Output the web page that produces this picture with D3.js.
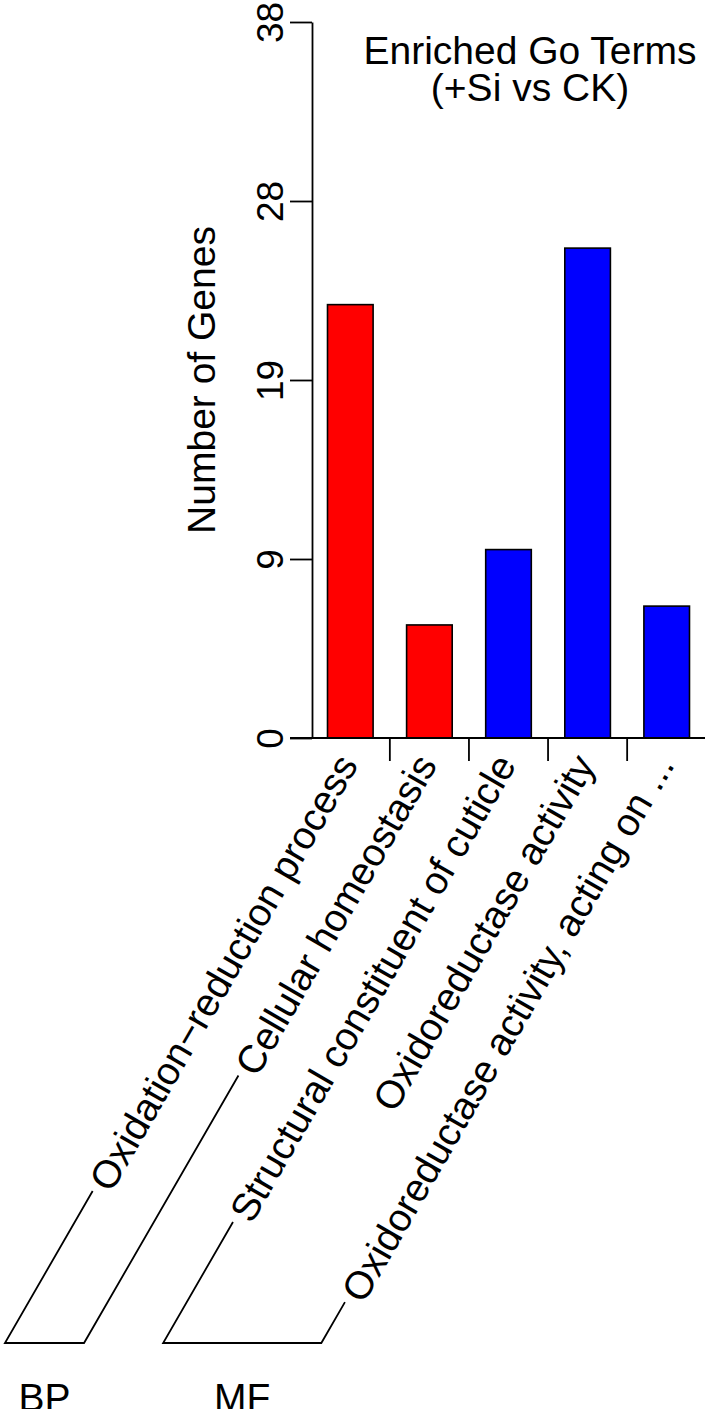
<!DOCTYPE html>
<html>
<head>
<meta charset="utf-8">
<script src="https://cdn.jsdelivr.net/npm/d3@7"></script>
<style>
  html, body { margin: 0; padding: 0; background: #fff; }
  svg { display: block; }
  text { font-family: "Liberation Sans", Arial, Helvetica, sans-serif; fill: #000; }
</style>
</head>
<body>
<svg id="chart" width="709" height="1409"></svg>
<script>
// ---- data ----
const categories = [
  "Oxidation\u2212reduction process",
  "Cellular homeostasis",
  "Structural constituent of cuticle",
  "Oxidoreductase activity",
  "Oxidoreductase activity, acting on ..."
];
const values = [23, 6, 10, 26, 7];
const groupOf = ["BP", "BP", "MF", "MF", "MF"];
const groupNames = ["BP", "MF"];
const yTickValues = [0, 9.5, 19, 28.5, 38];
const yTickLabels = ["0", "9", "19", "28", "38"];
const titleLines = ["Enriched Go Terms", "(+Si vs CK)"];
const yTitle = "Number of Genes";

// ---- styles ----
const groupColor = { BP: "#FF0000", MF: "#0000FF" };
const FS = 39;       // label / title font size
const FS_TICK = 37;  // y tick labels
const ANG = 60;

const svg = d3.select("#chart");

const x = d3.scaleBand().domain(categories).range([312, 705])
  .paddingInner(0.4235).paddingOuter(0.196);
const y = d3.scaleLinear().domain([0, 38]).range([738, 22]);

// bars
svg.append("g").selectAll("rect").data(categories).join("rect")
  .attr("x", d => x(d))
  .attr("y", (d, i) => y(values[i]))
  .attr("width", x.bandwidth())
  .attr("height", (d, i) => y(0) - y(values[i]))
  .attr("fill", (d, i) => groupColor[groupOf[i]])
  .attr("stroke", "#000").attr("stroke-width", 1.6);

// y axis
const yAxis = svg.append("g").attr("transform", "translate(312,0)")
  .call(d3.axisLeft(y).tickValues(yTickValues)
    .tickFormat((d, i) => yTickLabels[i]).tickSize(22).tickSizeOuter(0));
yAxis.select(".domain").attr("stroke", "#000").attr("stroke-width", 1.8);
yAxis.selectAll(".tick line").attr("stroke", "#000").attr("stroke-width", 1.8);
yAxis.selectAll(".tick text")
  .attr("x", null).attr("dy", null)
  .attr("transform", "translate(-29,0) rotate(-90)")
  .attr("text-anchor", "middle")
  .style("font-size", FS_TICK + "px")
  .style("font-family", "'Liberation Sans', Arial, sans-serif")
  .attr("fill", "#000");

// x axis baseline
svg.append("line")
  .attr("x1", 312 - 22).attr("x2", x.range()[1])
  .attr("y1", y(0)).attr("y2", y(0))
  .attr("stroke", "#000").attr("stroke-width", 1.8);

// x ticks at gaps between bars
const gapTicks = categories.slice(0, -1).map(c => x(c) + x.bandwidth() + (x.step() - x.bandwidth()) / 2);
svg.append("g").selectAll("line").data(gapTicks).join("line")
  .attr("x1", d => d).attr("x2", d => d)
  .attr("y1", y(0)).attr("y2", y(0) + 23)
  .attr("stroke", "#000").attr("stroke-width", 1.8);

// rotated category labels
const labelY = y(0) + 20;
const labelDx = -3;
const labels = svg.append("g").selectAll("text").data(categories).join("text")
  .attr("transform", d => `translate(${x(d) + x.bandwidth() / 2 + labelDx},${labelY}) rotate(${-ANG})`)
  .attr("text-anchor", "end")
  .attr("dominant-baseline", "central")
  .style("font-size", FS + "px")
  .text(d => d);

// brackets grouping categories
const rad = ANG * Math.PI / 180;
const dir = [-Math.cos(rad), Math.sin(rad)];   // along text, toward its start
const up = [-Math.sin(rad), -Math.cos(rad)];   // text "up" direction
const gap = 7, perp = 4, yBase = 1343;
const tops = [], bottoms = [];
labels.each(function (d, i) {
  const L = this.getComputedTextLength();
  const ax = x(d) + x.bandwidth() / 2 + labelDx, ay = labelY;
  const tx = ax + (L + gap) * dir[0] + perp * up[0];
  const ty = ay + (L + gap) * dir[1] + perp * up[1];
  const t = (yBase - ty) / dir[1];
  tops[i] = [tx, ty];
  bottoms[i] = [tx + t * dir[0], yBase];
});
groupNames.forEach(g => {
  const idx = groupOf.map((v, i) => v === g ? i : -1).filter(i => i >= 0);
  const a = idx[0], b = idx[idx.length - 1];
  const pts = [tops[a], bottoms[a], bottoms[b], tops[b]];
  svg.append("path").attr("d", d3.line()(pts))
    .attr("fill", "none").attr("stroke", "#000").attr("stroke-width", 1.8);
  svg.append("text")
    .attr("x", (bottoms[a][0] + bottoms[b][0]) / 2)
    .attr("y", yBase + 68)
    .attr("text-anchor", "middle")
    .style("font-size", FS + "px")
    .text(g);
});

// y title
svg.append("text")
  .attr("transform", `translate(215,${(y(0) + y(38)) / 2}) rotate(-90)`)
  .attr("text-anchor", "middle")
  .style("font-size", FS + "px")
  .text(yTitle);

// title
svg.append("g").selectAll("text").data(titleLines).join("text")
  .attr("x", 530).attr("y", (d, i) => 64 + i * 37)
  .attr("text-anchor", "middle")
  .style("font-size", FS + "px")
  .text(d => d);
</script>
</body>
</html>
